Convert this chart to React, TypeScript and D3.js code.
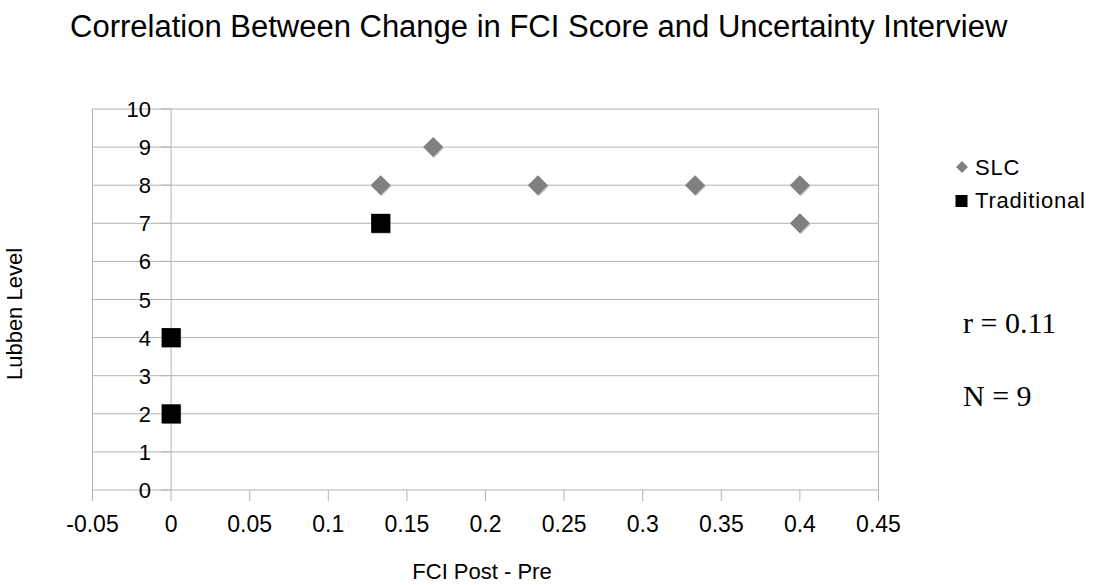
import * as d3 from "d3";

const slcX = [0.1333, 0.1667, 0.2333, 0.3333, 0.4, 0.4];
const slcY = [8, 9, 8, 8, 8, 7];
const tradX = [0.1333, 0, 0];
const tradY = [7, 4, 2];
const xTicks = [-0.05, 0, 0.05, 0.1, 0.15, 0.2, 0.25, 0.3, 0.35, 0.4, 0.45];
const yTicks = [0, 1, 2, 3, 4, 5, 6, 7, 8, 9, 10];
const legendLabels = ["SLC", "Traditional"];
const statLines = ["r = 0.11", "N = 9"];

const App = () => {
  const width = 1094;
  const height = 585;
  const grid = "#b3b3b3";
  const sans = '"Liberation Sans", Arial, sans-serif';
  const serif = '"Liberation Serif", "Times New Roman", serif';

  const xScale = d3.scaleLinear().domain([-0.05, 0.45]).range([92.5, 878.5]);
  const yScale = d3.scaleLinear().domain([0, 10]).range([490, 109]);

  const diamond = (cx: number, cy: number, r: number) =>
    `M${cx},${cy - r}L${cx + r},${cy}L${cx},${cy + r}L${cx - r},${cy}Z`;

  const slc = slcX.map((x, i) => ({ x, y: slcY[i] }));
  const trad = tradX.map((x, i) => ({ x, y: tradY[i] }));

  return (
    <div style={{ position: "absolute", left: 0, top: 0, background: "white" }}>
      <svg width={width} height={height}>
        <rect width={width} height={height} fill="white" />
        <text x={70} y={37} fontSize={31} fontFamily={sans} fill="#000">
          Correlation Between Change in FCI Score and Uncertainty Interview
        </text>

        {/* horizontal grid */}
        {yTicks.map((t) => (
          <line key={"g" + t} x1={xScale(-0.05)} x2={xScale(0.45)} y1={yScale(t)} y2={yScale(t)} stroke={grid} strokeWidth={1} />
        ))}
        {/* frame verticals and y axis at x=0 */}
        {[-0.05, 0, 0.45].map((v) => (
          <line key={"v" + v} x1={xScale(v)} x2={xScale(v)} y1={yScale(10)} y2={yScale(0)} stroke={grid} strokeWidth={1} />
        ))}

        {/* y ticks and labels */}
        {yTicks.map((t) => (
          <g key={"yt" + t}>
            <line x1={xScale(0) - 10} x2={xScale(0)} y1={yScale(t)} y2={yScale(t)} stroke={grid} />
            <text x={151} y={yScale(t) + 8} textAnchor="end" fontSize={22} fontFamily={sans} fill="#000">
              {t}
            </text>
          </g>
        ))}

        {/* x ticks and labels */}
        {xTicks.map((t) => (
          <g key={"xt" + t}>
            <line x1={xScale(t)} x2={xScale(t)} y1={yScale(0)} y2={yScale(0) + 11} stroke={grid} />
            <text x={xScale(t)} y={532} textAnchor="middle" fontSize={23} fontFamily={sans} fill="#000">
              {String(t)}
            </text>
          </g>
        ))}

        <text x={482} y={579} textAnchor="middle" fontSize={22} fontFamily={sans} fill="#000">
          FCI Post - Pre
        </text>
        <text
          transform={`translate(22, ${314}) rotate(-90)`}
          textAnchor="middle"
          fontSize={22}
          fontFamily={sans}
          fill="#000"
        >
          Lubben Level
        </text>

        {/* SLC points */}
        {slc.map((d, i) => (
          <g key={"s" + i}>
            <path d={diamond(xScale(d.x) + 1, yScale(d.y) + 1, 10)} fill="#c8c8c8" />
            <path d={diamond(xScale(d.x), yScale(d.y), 10)} fill="#808080" />
          </g>
        ))}
        {/* Traditional points */}
        {trad.map((d, i) => (
          <g key={"t" + i}>
            <rect x={xScale(d.x) - 9} y={yScale(d.y) - 9} width={19} height={19} fill="#808080" />
            <rect x={xScale(d.x) - 9.5} y={yScale(d.y) - 9.5} width={19} height={19} fill="#000" />
          </g>
        ))}

        {/* legend */}
        <path d={diamond(962, 167, 6)} fill="#808080" />
        <text x={975} y={175} fontSize={22} letterSpacing={0.8} fontFamily={sans} fill="#000">
          {legendLabels[0]}
        </text>
        <rect x={955.5} y={195} width={12} height={12} fill="#000" />
        <text x={975} y={208} fontSize={22} letterSpacing={0.8} fontFamily={sans} fill="#000">
          {legendLabels[1]}
        </text>

        {statLines.map((s, i) => (
          <text key={s} x={963} y={333 + i * 73} fontSize={30} fontFamily={serif} fill="#000">
            {s}
          </text>
        ))}
      </svg>
    </div>
  );
};

export default App;
